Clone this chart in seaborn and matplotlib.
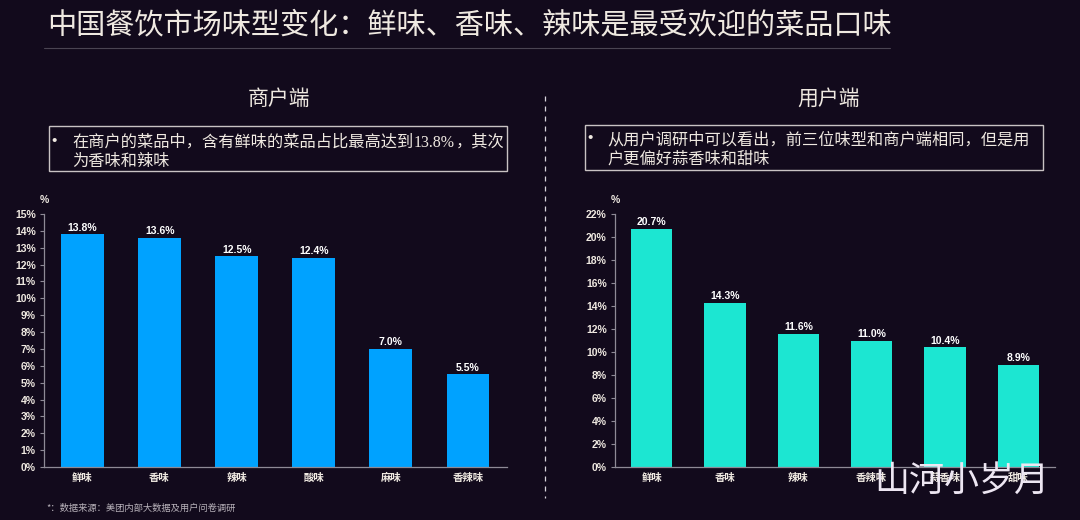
import pandas as pd
import seaborn as sns
import matplotlib.pyplot as plt
from matplotlib.lines import Line2D
from matplotlib.patches import Rectangle

W, H = 1080, 520
bg = '#120A1C'
txt = '#EFE9E1'
grey = '#8E8A96'
numFont = ['Liberation Sans', 'Noto Sans CJK SC']

sns.set_theme(style='white')
plt.rcParams['font.family'] = ['Noto Sans CJK SC', 'DejaVu Sans']

dfShop = pd.DataFrame({'taste': ['鲜味', '香味', '辣味', '酸味', '麻味', '香辣味'],
                       'share': [13.8, 13.6, 12.5, 12.4, 7.0, 5.5]})
dfUser = pd.DataFrame({'taste': ['鲜味', '香味', '辣味', '香辣味', '蒜香味', '甜味'],
                       'share': [20.7, 14.3, 11.6, 11.0, 10.4, 8.9]})

fig = plt.figure(figsize=(W / 100, H / 100), dpi=100, facecolor=bg)


def fx(x):
    return x / W


def fy(y):
    return 1 - y / H


def draw_panel(df, left, right, top, ymax, step, color, width):
    ax = fig.add_axes([fx(left), fy(467), (right - left) / W, (467 - top) / H], facecolor=bg)
    sns.barplot(data=df, x='taste', y='share', color=color, width=width, saturation=1, linewidth=0, ax=ax)
    ax.set_xlim(-0.5, 5.5)
    ax.set_ylim(0, ymax)
    ax.set_yticks(range(0, ymax + 1, step))
    ax.set_yticklabels([f'{v}%' for v in range(0, ymax + 1, step)])
    ax.set(xlabel='', ylabel='')
    ax.tick_params(axis='y', left=True, length=3, width=0.8, color=grey, pad=3, labelsize=7.5, labelcolor=txt)
    ax.tick_params(axis='x', bottom=False, length=0, pad=8, labelsize=7.5, labelcolor=txt)
    for label in ax.get_yticklabels():
        label.set_fontweight('bold')
        label.set_family(numFont)
    for label in ax.get_xticklabels():
        label.set_fontweight('bold')
        label.set_va('center')
    sns.despine(ax=ax)
    for side in ['left', 'bottom']:
        ax.spines[side].set_color(grey)
        ax.spines[side].set_linewidth(0.9)
    for p, val in zip(ax.patches, df['share']):
        ax.text(p.get_x() + p.get_width() / 2., val + ymax * 0.006, f'{val:.1f}%',
                ha='center', va='bottom', color='white', fontsize=7.5, fontweight='bold', family=numFont)
    fig.text(fx(left), fy(200), '%', ha='center', va='center', color=txt, fontsize=7.5,
             fontweight='bold', family=numFont)
    return ax


draw_panel(dfShop, 44, 506.5, 214, 15, 1, '#00A2FF', 0.555)
draw_panel(dfUser, 615, 1055, 214, 22, 2, '#1CE6D2', 0.56)

# title and rule
fig.text(fx(47), fy(25), '中国餐饮市场味型变化：鲜味、香味、辣味是最受欢迎的菜品口味',
         ha='left', va='center', color=txt, fontsize=21)
fig.add_artist(Line2D([fx(44), fx(890)], [fy(48), fy(48)], color='#4A4452', lw=0.8))

# sub headings
fig.text(fx(279), fy(99), '商户端', ha='center', va='center', color=txt, fontsize=15)
fig.text(fx(829), fy(99), '用户端', ha='center', va='center', color=txt, fontsize=15)

# divider
fig.add_artist(Line2D([fx(545), fx(545)], [fy(96), fy(498)], color='#D8D4DC', lw=0.9, ls=(0, (4, 4))))

# note boxes
boxes = [(48.5, 126, 507, 171, 147, 166, 54),
         (584.5, 125, 1043, 170, 144.5, 164, 590)]
for x0, y0, x1, y1, base1, base2, bx in boxes:
    fig.add_artist(Rectangle((fx(x0), fy(y1)), (x1 - x0) / W, (y1 - y0) / H, fill=False,
                             edgecolor='#C9C3C4', lw=1.0, transform=fig.transFigure))
    fig.text(fx(bx), fy(base1 - 6), '•', ha='center', va='center', color=txt, fontsize=11, family=numFont)

fig.text(fx(72), fy(147), '在商户的菜品中，含有鲜味的菜品占比最高达到', va='baseline', color=txt, fontsize=11.7)
fig.text(fx(414), fy(147), '13.8%', va='baseline', color=txt, fontsize=11.5, family=['Liberation Serif'])
fig.text(fx(456), fy(147), '，其次', va='baseline', color=txt, fontsize=11.7)
fig.text(fx(72), fy(166), '为香味和辣味', va='baseline', color=txt, fontsize=11.7)
fig.text(fx(607), fy(144.5), '从用户调研中可以看出，前三位味型和商户端相同，但是用', va='baseline', color=txt, fontsize=11.7)
fig.text(fx(607), fy(164), '户更偏好蒜香味和甜味', va='baseline', color=txt, fontsize=11.7)

# footnote and watermark
fig.text(fx(46), fy(508), '*：数据来源：美团内部大数据及用户问卷调研', ha='left', va='center', color='#B8B2BA', fontsize=6.7)
fig.text(fx(874), fy(481), '山河小岁月', ha='left', va='center', color='#EDE6F2', fontsize=25.2)

plt.savefig('out.png', dpi=100, facecolor=bg)
